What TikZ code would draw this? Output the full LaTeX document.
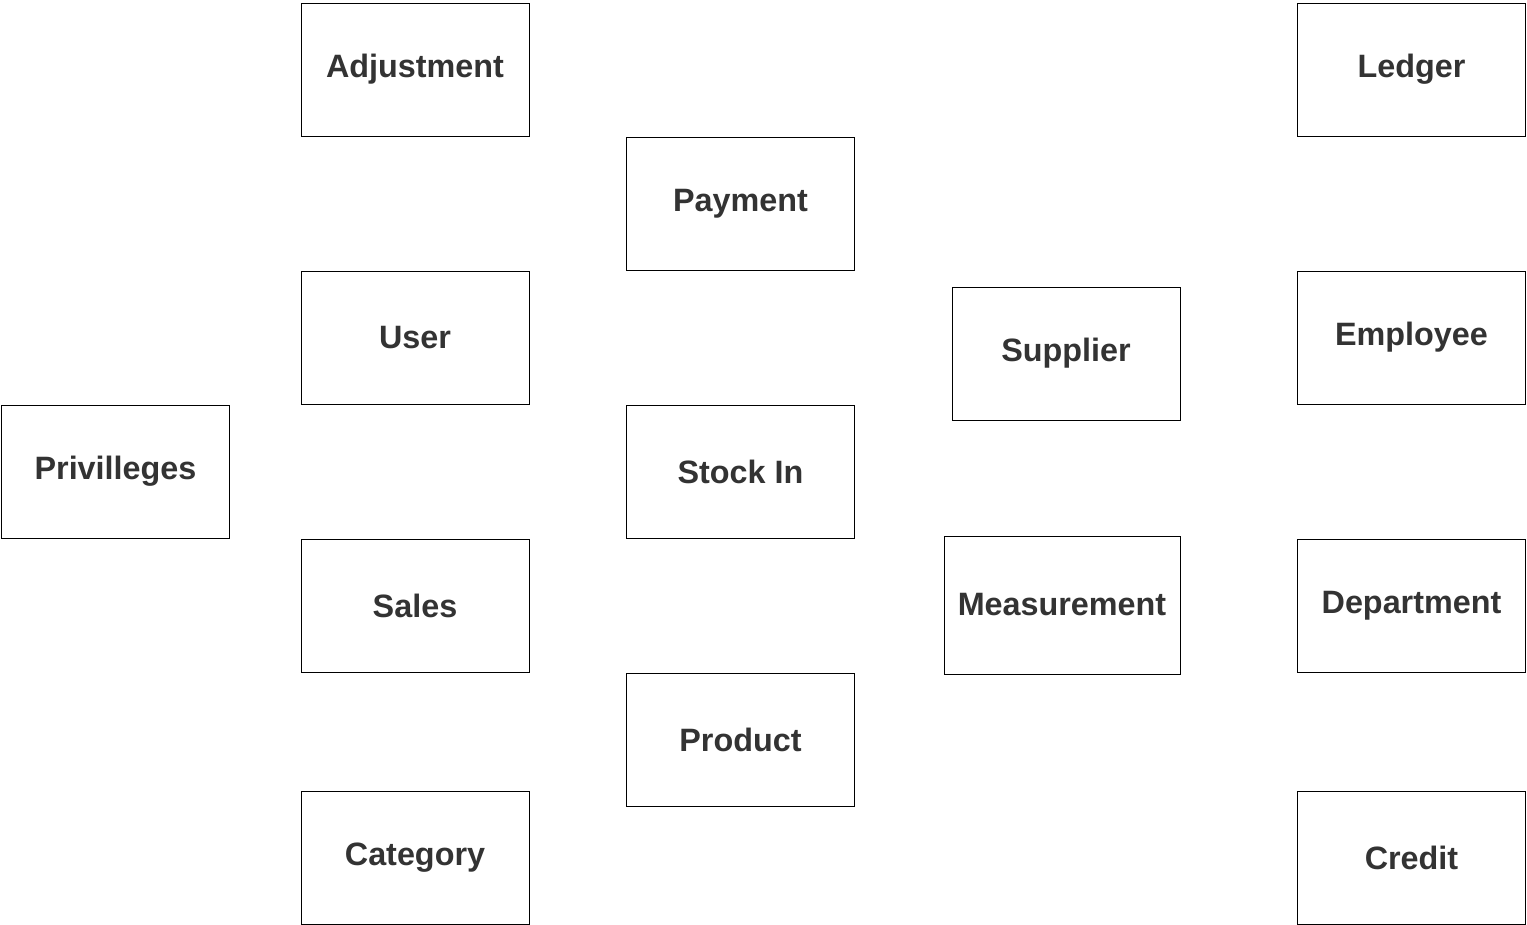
\documentclass[tikz,border=0pt]{standalone}
\usepackage{fontspec}
\setmainfont{Liberation Sans}
\definecolor{labelgray}{HTML}{333333}
\tikzset{basic/.style={draw,fill=white,text=labelgray,font=\fontsize{23}{28}\selectfont\bfseries,
                       text badly centered,inner sep=0pt}}
\tikzset{entity/.style={basic,rectangle,minimum width=5.7cm,minimum height=3.325cm}}
\tikzset{wideentity/.style={basic,rectangle,minimum width=5.9cm,minimum height=3.45cm}}

\begin{document}
\begin{tikzpicture}[x=0.025cm,y=-0.025cm]
    \useasboundingbox (0,0) rectangle (1527,925);
    \foreach \n/\cx/\cy/\h in {adjustment/415/69.5/Adjustment,
                              ledger/1411.5/69.5/Ledger,
                              payment/740.5/203.5/Payment,
                              user/415/337.5/User,
                              supplier/1066/353.5/Supplier,
                              employee/1411.5/337.5/Employee,
                              privilleges/115.5/471.5/Privilleges,
                              stockin/740.5/471.5/Stock In,
                              sales/415/605.5/Sales,
                              department/1411.5/605.5/Department,
                              product/740.5/739.5/Product,
                              category/415/857.5/Category,
                              credit/1411.5/857.5/Credit}{%
          \node[entity] (\n) at (\cx,\cy) {\h};
        }
    \node[wideentity] (measurement) at (1062,605) {Measurement};
\end{tikzpicture}
\end{document}
